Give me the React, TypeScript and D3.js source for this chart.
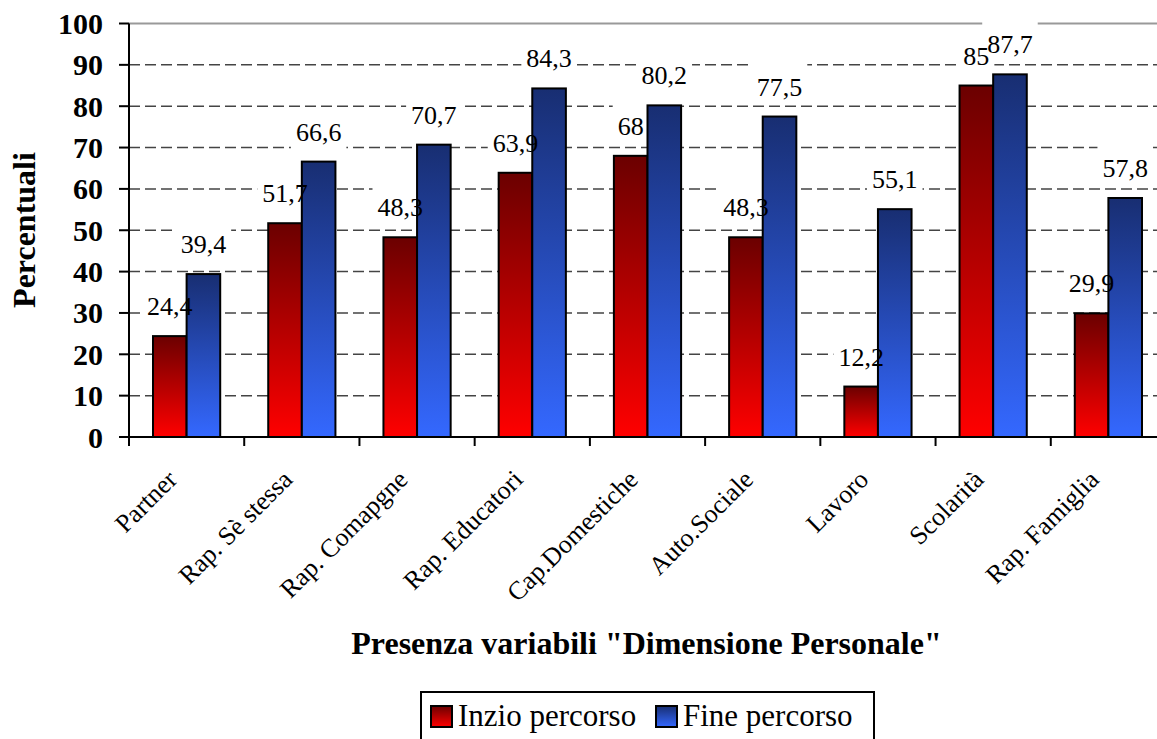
import React from "react";
import * as d3 from "d3";

const categories = [
  "Partner",
  "Rap. Sè stessa",
  "Rap. Comapgne",
  "Rap. Educatori",
  "Cap.Domestiche",
  "Auto.Sociale",
  "Lavoro",
  "Scolarità",
  "Rap. Famiglia",
];
const seriesNames = ["Inzio percorso", "Fine percorso"];
const inizio = [24.4, 51.7, 48.3, 63.9, 68, 48.3, 12.2, 85, 29.9];
const fine = [39.4, 66.6, 70.7, 84.3, 80.2, 77.5, 55.1, 87.7, 57.8];
const yTicks = [0, 10, 20, 30, 40, 50, 60, 70, 80, 90, 100];

const W = 1157;
const H = 739;
const FONT = "Liberation Serif, Tinos, Times New Roman, DejaVu Serif";

const fmt = (v: number) => String(v).replace(".", ",");

export default function App() {
  const left = 129;
  const right = 1166;
  const top = 23.5;
  const bottom = 437;

  const x0 = d3
    .scaleBand<string>()
    .domain(categories)
    .range([left, right])
    .paddingInner(0.4167)
    .paddingOuter(0.2083);
  const x1 = d3
    .scaleBand<string>()
    .domain(seriesNames)
    .range([0, x0.bandwidth()]);
  const y = d3.scaleLinear().domain([0, 100]).range([bottom, top]);
  const step = x0.step();

  const series = [
    { name: seriesNames[0], values: inizio, grad: "gradRed" },
    { name: seriesNames[1], values: fine, grad: "gradBlue" },
  ];

  const labelFont = 26;
  const charW = (s: string) =>
    s.split("").reduce((a, c) => a + (c === "," ? 0.25 : 0.5), 0) * labelFont;

  const labels = series.flatMap((s) =>
    s.values.map((v, i) => {
      const cx = (x0(categories[i]) as number) + (x1(s.name) as number) + x1.bandwidth() / 2;
      const by = y(v) - 21;
      const t = fmt(v);
      return { cx, by, t, w: charW(t), key: s.name + i };
    })
  );

  const ts = { fontFamily: FONT } as React.CSSProperties;

  return (
    <svg
      width={W}
      height={H}
      style={{ position: "fixed", left: 0, top: 0, background: "#fff", fontFamily: FONT }}
    >
      <defs>
        <linearGradient id="gradRed" x1="0" y1="0" x2="0" y2="1">
          <stop offset="0%" stopColor="#6b0000" />
          <stop offset="100%" stopColor="#ff0000" />
        </linearGradient>
        <linearGradient id="gradBlue" x1="0" y1="0" x2="0" y2="1">
          <stop offset="0%" stopColor="#182e72" />
          <stop offset="100%" stopColor="#3468ff" />
        </linearGradient>
      </defs>
      <rect x={0} y={0} width={W} height={H} fill="#fff" />

      {/* gridlines */}
      {yTicks
        .filter((t) => t > 0)
        .map((t) =>
          t === 100 ? (
            <line key={t} x1={left} x2={W} y1={y(t)} y2={y(t)} stroke="#999" strokeWidth={2} />
          ) : (
            <line
              key={t}
              x1={left}
              x2={W}
              y1={y(t)}
              y2={y(t)}
              stroke="#444"
              strokeWidth={1.5}
              strokeDasharray="11 5"
            />
          )
        )}

      {/* label backgrounds */}
      {labels.map((l) => (
        <rect
          key={"bg" + l.key}
          x={l.cx - l.w / 2 - 5}
          y={l.by - 33}
          width={l.w + 10}
          height={42}
          fill="#fff"
        />
      ))}

      {/* bars */}
      {series.map((s) =>
        s.values.map((v, i) => (
          <rect
            key={s.name + i}
            x={(x0(categories[i]) as number) + (x1(s.name) as number)}
            y={y(v)}
            width={x1.bandwidth()}
            height={bottom - y(v)}
            fill={`url(#${s.grad})`}
            stroke="#000"
            strokeWidth={2}
          />
        ))
      )}

      {/* label text */}
      {labels.map((l) => (
        <text key={"t" + l.key} x={l.cx} y={l.by} textAnchor="middle" fontSize={labelFont} fill="#000" style={ts}>
          {l.t}
        </text>
      ))}

      {/* axes */}
      <line x1={left} x2={left} y1={top} y2={bottom} stroke="#000" strokeWidth={2} />
      <line x1={left} x2={W} y1={bottom} y2={bottom} stroke="#000" strokeWidth={2} />
      {yTicks.map((t) => (
        <g key={"yt" + t}>
          <line x1={left - 10} x2={left} y1={y(t)} y2={y(t)} stroke="#000" strokeWidth={2} />
          <text
            x={103}
            y={y(t)}
            dy="0.35em"
            textAnchor="end"
            fontSize={30}
            fontWeight="bold"
            fill="#000"
            style={ts}
          >
            {t}
          </text>
        </g>
      ))}
      {categories.map((c, i) => {
        const bx = left + i * step;
        return (
          <line key={"xt" + c} x1={bx} x2={bx} y1={bottom} y2={bottom + 9} stroke="#000" strokeWidth={2} />
        );
      })}
      {categories.map((c) => {
        const cx = (x0(c) as number) + x0.bandwidth() / 2;
        const ax = cx - 8;
        const ay = 481;
        return (
          <text
            key={"xl" + c}
            x={ax}
            y={ay}
            textAnchor="end"
            fontSize={26}
            fill="#000"
            style={ts}
            transform={`rotate(-45 ${ax} ${ay})`}
          >
            {c}
          </text>
        );
      })}

      {/* axis titles */}
      <text
        x={35}
        y={230}
        transform="rotate(-90 35 230)"
        textAnchor="middle"
        fontSize={32}
        fontWeight="bold"
        fill="#000"
        style={ts}
      >
        Percentuali
      </text>
      <text x={646.5} y={654} textAnchor="middle" fontSize={32} fontWeight="bold" fill="#000" style={ts}>
        Presenza variabili "Dimensione Personale"
      </text>

      {/* legend */}
      <rect x={421} y={692} width={453} height={60} fill="#fff" stroke="#000" strokeWidth={2} />
      <rect x={431} y={706} width={21} height={21} fill="url(#gradRed)" stroke="#000" strokeWidth={2} />
      <text x={458} y={726} fontSize={31} fill="#000" style={ts}>
        {seriesNames[0]}
      </text>
      <rect x={656} y={706} width={21} height={21} fill="url(#gradBlue)" stroke="#000" strokeWidth={2} />
      <text x={683} y={726} fontSize={31} fill="#000" style={ts}>
        {seriesNames[1]}
      </text>
    </svg>
  );
}
